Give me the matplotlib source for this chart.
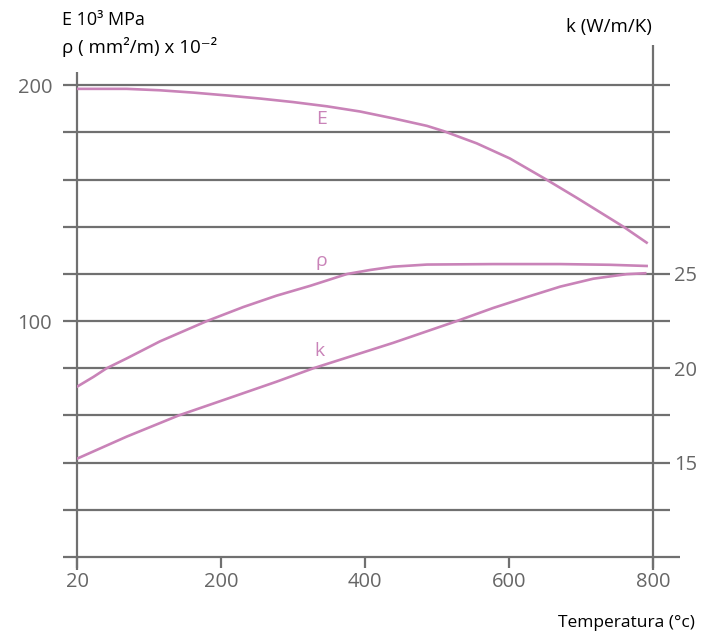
import matplotlib
matplotlib.use("Agg")
import matplotlib.pyplot as plt

plt.rcParams['font.family'] = ['Open Sans', 'DejaVu Sans']

# temperatura: posizione sull'asse (il primo tick e' etichettato "20")
x_E = [0, 69, 115, 162, 208, 254, 300, 347, 393, 439, 486, 509, 555, 601, 652, 694, 740, 759, 791]
E = [198.5, 198.5, 197.9, 196.9, 195.7, 194.4, 192.9, 191.1, 188.9, 186.0, 182.8, 180.6,
     175.4, 169.0, 160.0, 152.3, 143.6, 140.0, 133.3]

x_rho = [0, 23, 41, 69, 115, 180, 231, 277, 324, 375, 407, 439, 486, 578, 671, 740, 791]
rho = [72.2, 76.4, 80.0, 84.2, 91.4, 100.0, 106.0, 110.8, 115.0, 120.0, 121.7, 123.1,
       124.0, 124.2, 124.2, 123.9, 123.4]

x_k = [0, 69, 141, 208, 277, 328, 439, 527, 578, 625, 671, 717, 763, 789]
k = [15.21, 16.38, 17.5, 18.38, 19.29, 20.0, 21.35, 22.5, 23.2, 23.78, 24.33,
     24.75, 24.99, 25.04]

xticks = [0, 200, 400, 600, 800]
xlabels = ["20", "200", "400", "600", "800"]
gridvals = [20, 40, 60, 80, 100, 120, 140, 160, 180, 200]
yticks = [100, 200]
kticks = [15, 20, 25]

grigio = "#707070"
viola = "#c983b8"

fig = plt.figure(figsize=(7.13, 6.37), dpi=100)
ax = fig.add_axes([0.108, 0.1256, 0.808, 0.8034])
ax.set_xlim(0, 800)
ax.set_ylim(0, 217)
for s in ax.spines.values():
    s.set_visible(False)

# griglia orizzontale, un po' oltre gli assi
ax.hlines(gridvals, -19, 823, color=grigio, lw=1.6, clip_on=False, zorder=1)
ax.hlines([0], -19, 837, color=grigio, lw=1.6, clip_on=False, zorder=1)
# assi verticali
ax.vlines([0], -5.5, 205.5, color=grigio, lw=1.6, clip_on=False, zorder=1)
ax.vlines([800], -5.5, 217, color=grigio, lw=1.6, clip_on=False, zorder=1)

# k sulla scala di sinistra: 25 -> 120, 20 -> 80, 15 -> 40
k_sx = [8 * v - 80 for v in k]

ax.plot(x_E, E, color=viola, lw=1.9, zorder=3, solid_joinstyle="round")
ax.plot(x_rho, rho, color=viola, lw=1.9, zorder=3, solid_joinstyle="round")
ax.plot(x_k, k_sx, color=viola, lw=1.9, zorder=3, solid_joinstyle="round")

ax.text(339, 185.6, "E", color=viola, fontsize=14, ha="center", va="center")
ax.text(340, 125.5, "ρ", color=viola, fontsize=14, ha="center", va="center")
ax.text(337, 87.5, "k", color=viola, fontsize=14, ha="center", va="center")

ax.set_xticks(xticks)
ax.set_xticklabels(xlabels)
ax.set_yticks(yticks)
ax.tick_params(axis='x', length=8, width=1.6, color=grigio, labelcolor="#666666",
               labelsize=14.5, pad=3)
ax.tick_params(axis='y', length=0, labelcolor="#666666", labelsize=14.5, pad=18)

ax2 = ax.twinx()
ax2.set_ylim(10, (217 + 80) / 8)
for s in ax2.spines.values():
    s.set_visible(False)
ax2.set_yticks(kticks)
ax2.tick_params(axis='y', length=0, labelcolor="#666666", labelsize=14.5, pad=15)

fig.text(62 / 713, 1 - 20 / 637, "E 10³ MPa", fontsize=13, ha="left", va="center")
fig.text(62 / 713, 1 - 47 / 637, "ρ ( mm²/m) x 10⁻²", fontsize=13.5, ha="left", va="center")
fig.text(652 / 713, 1 - 27 / 637, "k (W/m/K)", fontsize=13.5, ha="right", va="center")
fig.text(695 / 713, 1 - 623 / 637, "Temperatura (°c)", fontsize=12.5, ha="right", va="center")

fig.savefig("out.png", dpi=100)
